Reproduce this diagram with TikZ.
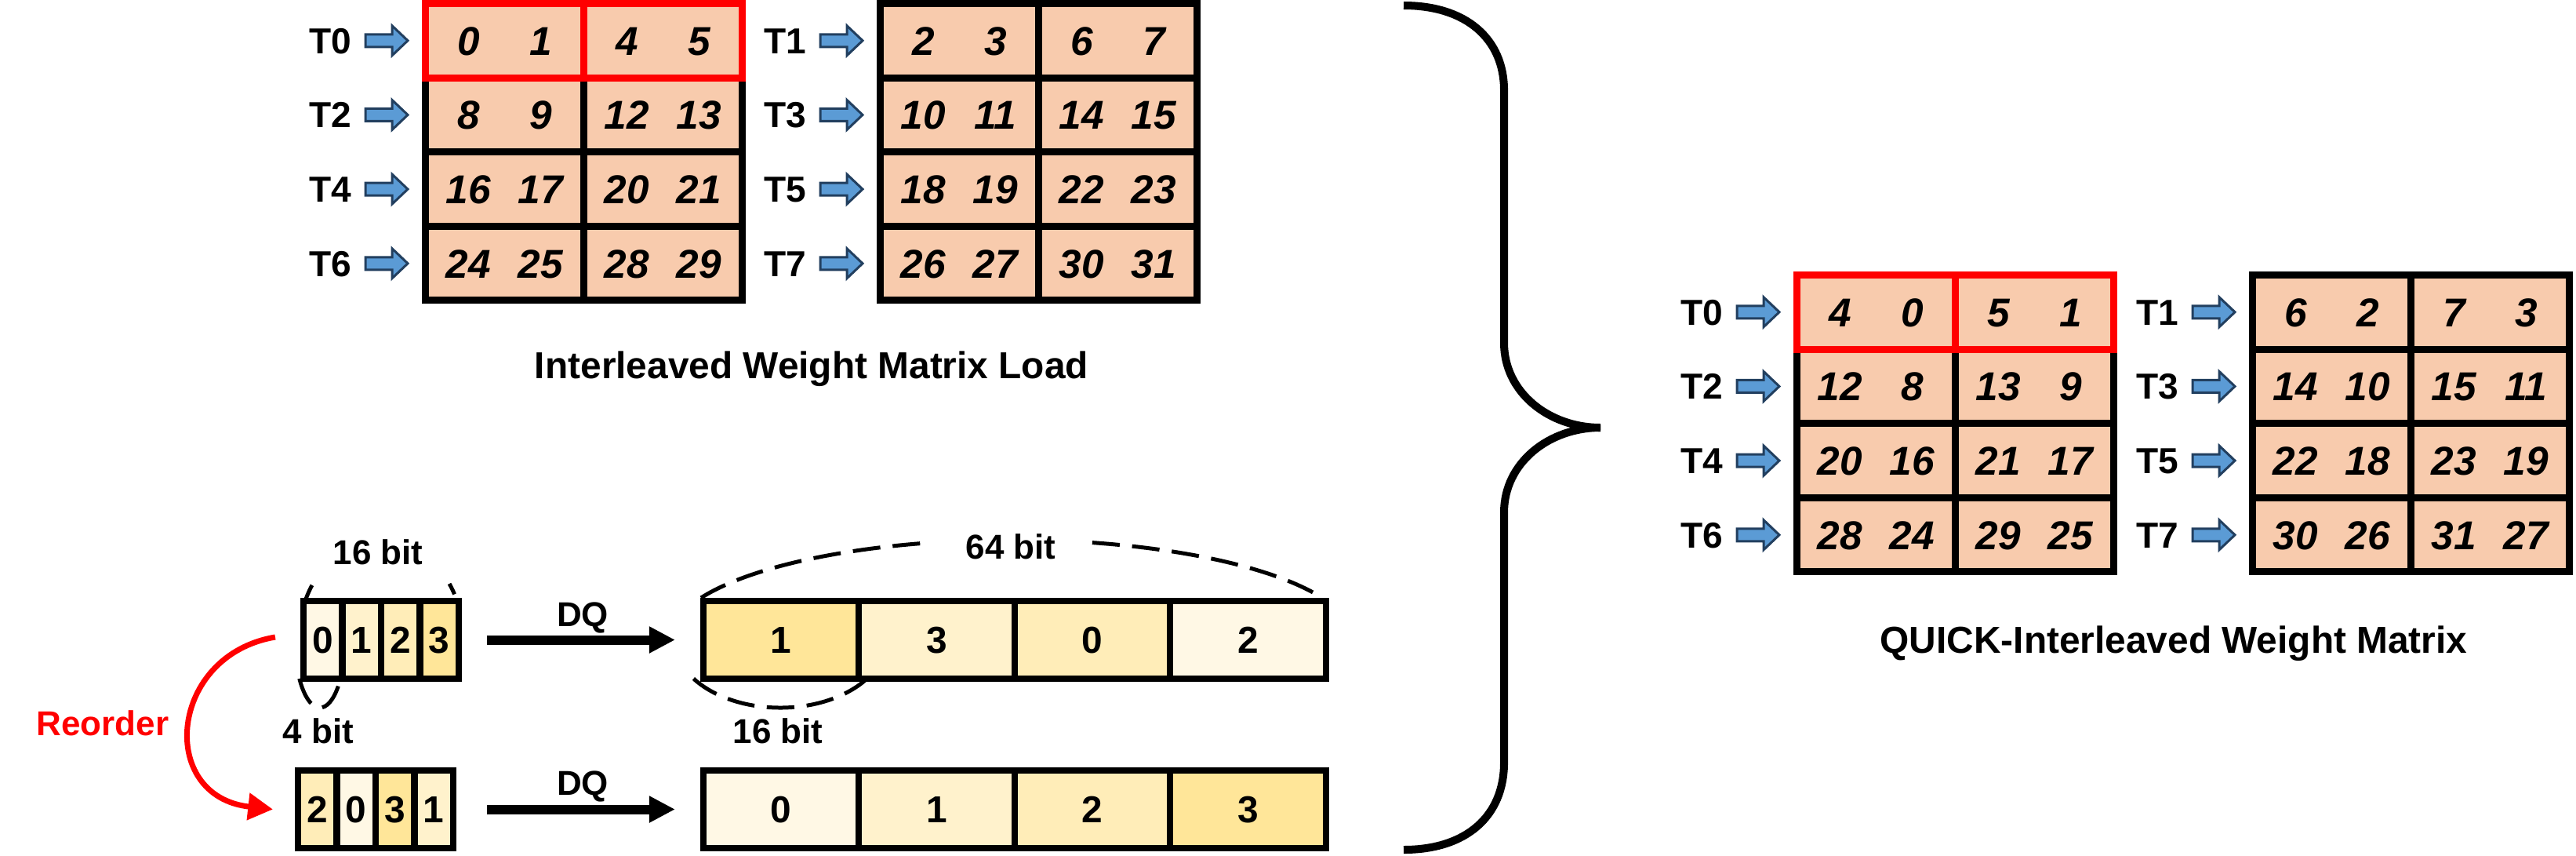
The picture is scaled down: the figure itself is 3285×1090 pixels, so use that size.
\documentclass[tikz,border=0pt]{standalone}
\usepackage{fontspec}
\setmainfont{Liberation Sans}
\usetikzlibrary{arrows.meta}
\definecolor{peach}{HTML}{F8CBAD}
\definecolor{arrfill}{HTML}{5B9BD5}
\definecolor{arrline}{HTML}{223F5F}
\definecolor{ya}{HTML}{FFF8E5}
\definecolor{yb}{HTML}{FFF2CC}
\definecolor{yc}{HTML}{FFEDB8}
\definecolor{yd}{HTML}{FFE699}
% #1 name, #2 left, #3 top, #4 first T index, #5-#8 offsets of the four numbers
\newcommand\wmat[8]{%
  \fill[peach] (#2,#3) rectangle ++(413,387);
  \draw[gridl] (#2+4.5,#3+4.5) rectangle (#2+408.5,#3+382.5);
  \foreach \yy in {99,193.5,288.5} \draw[gridl] (#2+4.5,#3+\yy) -- (#2+408.5,#3+\yy);
  \draw[gridl] (#2+206.5,#3+4.5) -- (#2+206.5,#3+382.5);
  \foreach \r in {0,1,2,3}{%
    \pgfmathsetmacro\yc{#3+51.75+94.67*\r}%
    \pgfmathtruncatemacro\tidx{2*\r+#4}%
    \pgfmathtruncatemacro\vA{8*\r+#5}%
    \pgfmathtruncatemacro\vB{8*\r+#6}%
    \pgfmathtruncatemacro\vC{8*\r+#7}%
    \pgfmathtruncatemacro\vD{8*\r+#8}%
    \node[tlab] (#1t\r) at (#2-117,\yc) {T\tidx};
    \pic at (#2-45,\yc) {blk};
    \node[num] (#1a\r) at (#2+59.5,\yc) {\vA};
    \node[num] (#1b\r) at (#2+151.5,\yc) {\vB};
    \node[num] (#1c\r) at (#2+261.5,\yc) {\vC};
    \node[num] (#1d\r) at (#2+353.5,\yc) {\vD};
  }
}
\newcommand\redrow[2]{%
  \draw[redl] (#1+4.5,#2+4.5) rectangle (#1+408.5,#2+99);
  \draw[redl] (#1+206.5,#2+4.5) -- (#1+206.5,#2+99);
}
\begin{document}
\begin{tikzpicture}[x=0.01cm,y=-0.01cm,
  gridl/.style={line width=2.56pt, draw=black},
  redl/.style={line width=2.56pt, draw=red},
  tlab/.style={inner sep=0pt, font=\fontsize{13.1pt}{15pt}\selectfont\bfseries, text height=9.4pt, text depth=0pt},
  num/.style={inner sep=0pt, font=\fontsize{14.6pt}{17pt}\selectfont\bfseries\itshape, text height=10.4pt, text depth=0pt},
  lab/.style={inner sep=0pt, font=\fontsize{12.5pt}{15pt}\selectfont\bfseries, text height=9pt, text depth=0pt},
  captxt/.style={inner sep=0pt, font=\fontsize{13.6pt}{16pt}\selectfont\bfseries, text height=9.8pt, text depth=0pt},
  ycell/.style={draw, line width=2.28pt, inner sep=0pt, minimum height=0.99cm, font=\fontsize{13.6pt}{16pt}\selectfont\bfseries, text height=9.7pt, text depth=0pt},
  scell/.style={ycell, minimum width=0.495cm},
  bcell/.style={ycell, minimum width=1.985cm},
  dq/.style={line width=3.4pt, -{Triangle[length=9.4pt,width=9.1pt]}},
  dashl/.style={line width=1.42pt, dash pattern=on 10pt off 4.5pt},
  reord/.style={draw=red, line width=2pt, -{Triangle[length=9pt,width=9.5pt]}},
  brace/.style={line width=2.85pt},
  blk/.pic={\draw[line width=0.85pt, draw=arrline, fill=arrfill] (-27,-8) -- (7,-8) -- (7,-19) -- (27,0) -- (7,19) -- (7,8) -- (-27,8) -- cycle;}
]
\useasboundingbox (0,0) rectangle (3285,1090);

% ---- matrices ----
\wmat{A}{538}{0}{0}{0}{1}{4}{5}
\redrow{538}{0}
\wmat{B}{1118}{0}{1}{2}{3}{6}{7}
\wmat{C}{2287}{346}{0}{4}{0}{5}{1}
\redrow{2287}{346}
\wmat{D}{2868}{346}{1}{6}{2}{7}{3}

\node[captxt] (capL) at (1035,465) {Interleaved Weight Matrix Load};
\node[captxt] (capR) at (2772,815) {QUICK-Interleaved Weight Matrix};

% ---- dashed arcs (behind boxes) ----
\draw[dashl] (486,815) ++(201:105 and 127) arc[start angle=201, end angle=213, x radius=105, y radius=127];
\draw[dashl] (486,815) ++(326:105 and 127) arc[start angle=326, end angle=333, x radius=105, y radius=127];
\draw[dashl] (1290,815) ++(204.7:436 and 127) arc[start angle=204.7, end angle=332.3, x radius=436, y radius=127];
\draw[dashl] (995,815) ++(145:135 and 87) arc[start angle=145, end angle=35, x radius=135, y radius=87];
\draw[dashl] (408,815) ++(145:32 and 87) arc[start angle=145, end angle=35, x radius=32, y radius=87];

% ---- 4-bit boxes ----
\node[scell, fill=ya] (sa0) at (411.75,815.5) {0};
\node[scell, fill=yb] (sa1) at (461.25,815.5) {1};
\node[scell, fill=yc] (sa2) at (510.75,815.5) {2};
\node[scell, fill=yd] (sa3) at (560.25,815.5) {3};
\node[scell, fill=yc] (sb0) at (404.75,1031.5) {2};
\node[scell, fill=ya] (sb1) at (454.25,1031.5) {0};
\node[scell, fill=yd] (sb2) at (503.75,1031.5) {3};
\node[scell, fill=yb] (sb3) at (553.25,1031.5) {1};

% ---- 16-bit bars ----
\node[bcell, fill=yd] (ba0) at (996.25,815.5) {1};
\node[bcell, fill=yb] (ba1) at (1194.75,815.5) {3};
\node[bcell, fill=yc] (ba2) at (1393.25,815.5) {0};
\node[bcell, fill=ya] (ba3) at (1591.75,815.5) {2};
\node[bcell, fill=ya] (bb0) at (996.25,1031.5) {0};
\node[bcell, fill=yb] (bb1) at (1194.75,1031.5) {1};
\node[bcell, fill=yc] (bb2) at (1393.25,1031.5) {2};
\node[bcell, fill=yd] (bb3) at (1591.75,1031.5) {3};

% ---- DQ arrows ----
\draw[dq, shorten <=0.32cm, shorten >=0.32cm] (sa3.east) -- (ba0.west);
\draw[dq, shorten <=0.39cm, shorten >=0.32cm] (sb3.east) -- (bb0.west);
\node[lab] (dq1) at (743,783) {DQ};
\node[lab] (dq2) at (743,998) {DQ};

% ---- labels ----
\node[lab] (l16a) at (482,704) {16 bit};
\node[lab, fill=white, inner xsep=0.44cm, inner ysep=0.2cm] (l64) at (1289,697) {64 bit};
\node[lab] (l4) at (406,932) {4 bit};
\node[lab] (l16b) at (992,932) {16 bit};

% ---- reorder arrow ----
\coordinate (rs) at ([xshift=-0.32cm, yshift=0.035cm]sa0.west);
\coordinate (re) at ([xshift=-0.28cm]sb0.west);
\draw[reord] (rs) .. controls (215,835) and (200,1015) .. (re);
\node[lab, text=red] (reo) at (131,922) {Reorder};

% ---- brace ----
\draw[brace] (1790,7) .. controls (1870,7) and (1918,50) .. (1918,115) -- (1918,437) .. controls (1918,500) and (1975,545) .. (2041,545);
\draw[brace] (2041,545) .. controls (1975,545) and (1918,590) .. (1918,653) -- (1918,972) .. controls (1918,1040) and (1870,1083) .. (1790,1083);
\end{tikzpicture}
\end{document}
